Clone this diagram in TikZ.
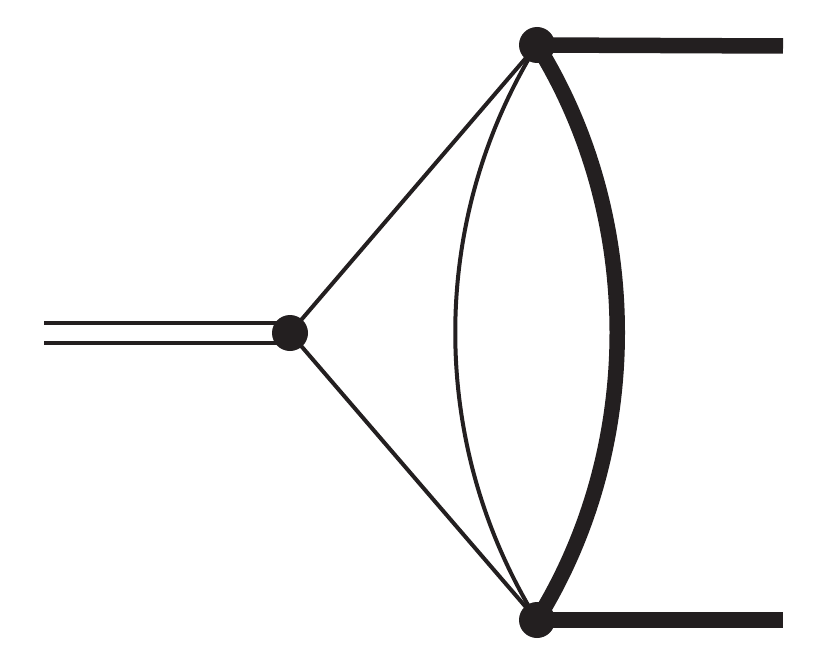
\documentclass[tikz,border=0pt]{standalone}
\usetikzlibrary{backgrounds}
\definecolor{ink}{HTML}{231F20}
\begin{document}
\begin{tikzpicture}[x=1bp,y=-1bp,
  vdot/.style={circle,fill=ink,draw=none,inner sep=0pt,minimum size=36bp},
  thinline/.style={draw=ink,line width=4bp},
  thickline/.style={draw=ink,line width=15.5bp},
  dblline/.style={draw=ink,line width=4bp,double=white,double distance=16.6bp}]
\useasboundingbox (0,0) rectangle (830,666);
\node[vdot] (L) at (290,333) {};
\node[vdot] (T) at (537,45) {};
\node[vdot] (B) at (537,620) {};
\coordinate (in) at (44,333);
\coordinate (outT) at (783,46);
\coordinate (outB) at (783,620);
\begin{pgfonlayer}{background}
\draw[dblline] (in) -- (L.center);
\draw[thinline] (L.center) -- (T.center);
\draw[thinline] (L.center) -- (B.center);
\draw[thinline] (T.center) .. controls (428,221) and (428,444) .. (B.center);
\draw[thickline] (T.center) .. controls (644,217) and (644,448) .. (B.center);
\draw[thickline] (T.center) -- (outT);
\draw[thickline] (B.center) -- (outB);
\end{pgfonlayer}
\end{tikzpicture}
\end{document}
